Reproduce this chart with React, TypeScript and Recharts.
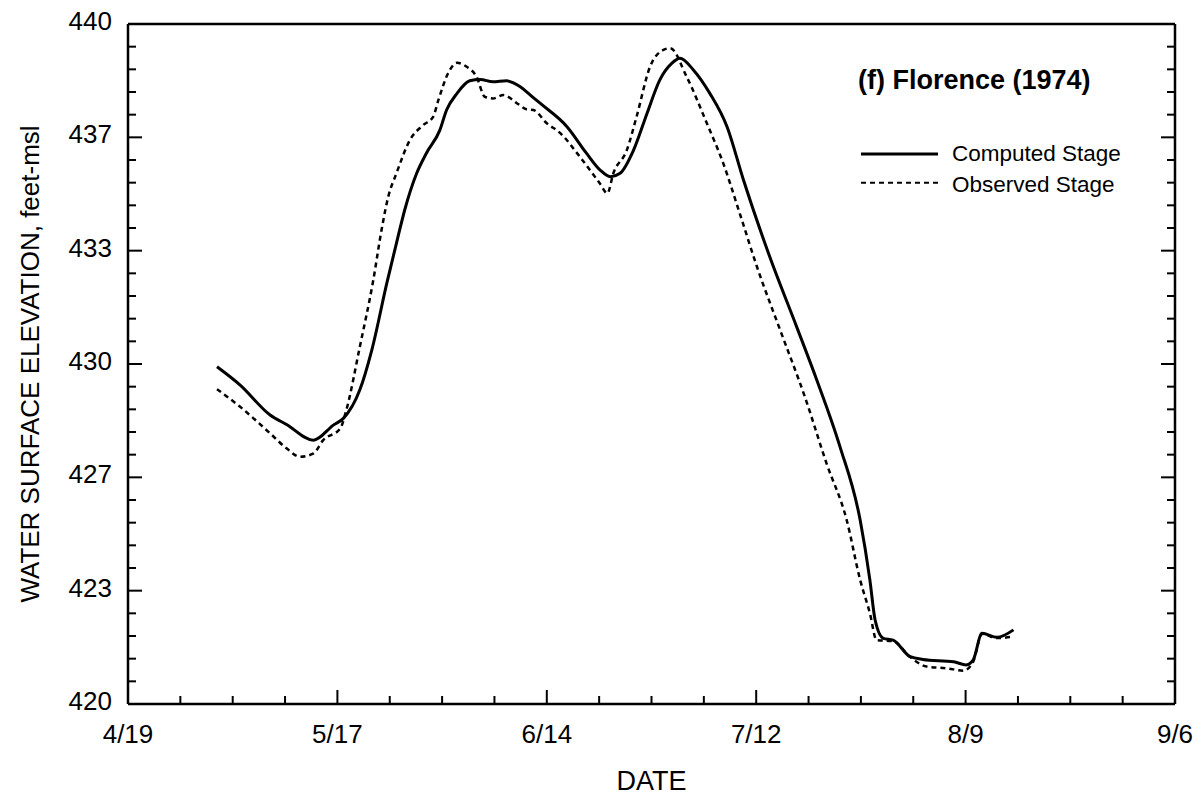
import React from "react"
import { LineChart, Line, XAxis, YAxis, Legend } from "recharts"

const FONT = '"Liberation Sans", Arial, Helvetica, sans-serif'

// x values are days after 4/19 (1974)
const dateLabels = ["4/19", "5/17", "6/14", "7/12", "8/9", "9/6"]
const elevationLabels = [420, 423, 427, 430, 433, 437, 440]

const computedDays = [
  11.9, 15.0, 19.0, 21.2, 24.8, 27.5, 28.8, 31.0, 32.6, 34.6, 36.1,
  37.0, 38.6, 39.9, 41.7, 42.6, 44.0, 45.7, 47.1, 48.8, 50.6,
  52.4, 53.8, 55.1, 58.7, 61.3, 63.1, 64.5, 65.8, 67.6, 69.4,
  71.1, 72.7, 73.8, 75.6, 77.8, 80.1, 82.3, 85.8, 89.4, 92.1,
  95.2, 97.9, 99.2, 99.9, 101.0, 102.3, 104.6, 106.3, 110.4, 112.1,
  113.0, 114.2, 116.2, 118.4
]
const computedStage = [
  429.92, 429.38, 428.5, 428.22, 427.76, 428.21, 428.4, 429.24, 430.41, 432.37, 433.74,
  434.53, 435.61, 436.2, 436.88, 437.47, 437.96, 438.33, 438.37, 438.3, 438.33,
  438.16, 437.91, 437.67, 436.98, 436.2, 435.71, 435.51, 435.61, 436.29, 437.37,
  438.35, 438.84, 438.99, 438.65, 437.96, 436.98, 435.41, 433.16, 431.1, 429.53,
  427.57, 425.41, 423.65, 422.47, 421.93, 421.88, 421.39, 421.31, 421.24, 421.15,
  421.29, 422.08, 421.96, 422.18
]

const observedDays = [
  11.9, 15.0, 19.0, 21.2, 23.0, 24.8, 26.1, 28.4, 29.2, 31.0,
  32.8, 33.9, 34.8, 35.9, 37.7, 39.5, 40.8, 41.5, 42.8, 44.0,
  45.3, 46.6, 47.7, 48.8, 50.2, 52.0, 53.3, 54.2, 56.0, 57.8,
  60.4, 63.1, 64.1, 64.9, 66.7, 68.0, 69.8, 71.6, 72.5, 74.7,
  77.4, 79.6, 81.8, 84.1, 87.2, 90.5, 93.4, 96.1, 97.9, 99.2,
  100.1, 102.3, 104.6, 106.8, 109.5, 111.7, 113.0, 114.2, 116.2, 118.4
]
const observedStage = [
  429.26, 428.74, 427.96, 427.52, 427.27, 427.37, 427.76, 428.11, 428.65, 430.51,
  432.47, 433.94, 434.92, 435.61, 436.59, 437.03, 437.27, 437.76, 438.55, 438.86,
  438.74, 438.45, 437.86, 437.81, 437.91, 437.67, 437.49, 437.47, 437.08, 436.79,
  436.1, 435.31, 435.02, 435.61, 436.29, 437.27, 438.74, 439.24, 439.29, 438.45,
  437.08, 435.9, 434.43, 432.86, 431.0, 429.04, 427.08, 425.41, 423.65, 422.67,
  421.88, 421.85, 421.38, 421.1, 421.05, 420.98, 421.24, 422.06, 421.94, 421.98
]

const computedData = computedDays.map((day, i) => ({ day, stage: computedStage[i] }))
const observedData = observedDays.map((day, i) => ({ day, stage: observedStage[i] }))

// a tick every week, long ones every 4 weeks (where the labels are)
const dayTicks = Array.from({ length: 21 }, (_, i) => i * 7)
// a tick every 2/3 ft, every 5th one labeled
const stageTicks = Array.from({ length: 31 }, (_, i) => 420 + (i * 2) / 3)

const dayIndex = (v: number) => (v % 28 === 0 ? v / 28 : -1)
const stageIndex = (v: number) => {
  const k = Math.round((v - 420) * 1.5)
  return k % 5 === 0 ? k / 5 : -1
}

const LONG = 14
const SHORT = 8

function BottomTick(props: any) {
  const { x, y, payload } = props
  const idx = dayIndex(payload.value)
  return (
    <g>
      <line x1={x} y1={y} x2={x} y2={y - (idx >= 0 ? LONG : SHORT)} stroke="#000" strokeWidth={2} />
      {idx >= 0 && (
        <text x={x} y={y + 39} textAnchor="middle" fontSize={26} fontFamily={FONT} fill="#000">
          {dateLabels[idx]}
        </text>
      )}
    </g>
  )
}

function TopTick(props: any) {
  const { x, y, payload } = props
  const idx = dayIndex(payload.value)
  return <line x1={x} y1={y} x2={x} y2={y + (idx >= 0 ? LONG : SHORT)} stroke="#000" strokeWidth={2} />
}

function LeftTick(props: any) {
  const { x, y, payload } = props
  const idx = stageIndex(payload.value)
  return (
    <g>
      <line x1={x} y1={y} x2={x + (idx >= 0 ? LONG : SHORT)} y2={y} stroke="#000" strokeWidth={2} />
      {idx >= 0 && (
        <text x={x - 16} y={y + 6} textAnchor="end" fontSize={26} fontFamily={FONT} fill="#000">
          {elevationLabels[idx]}
        </text>
      )}
    </g>
  )
}

function RightTick(props: any) {
  const { x, y, payload } = props
  const idx = stageIndex(payload.value)
  return <line x1={x} y1={y} x2={x - (idx >= 0 ? LONG : SHORT)} y2={y} stroke="#000" strokeWidth={2} />
}

function YTitle(props: any) {
  const vb = props.viewBox
  const cy = vb.y + vb.height / 2
  return (
    <text
      x={39}
      y={cy}
      transform={`rotate(-90, 39, ${cy})`}
      textAnchor="middle"
      fontSize={26}
      fontFamily={FONT}
      fill="#000"
    >
      WATER SURFACE ELEVATION, feet-msl
    </text>
  )
}

function XTitle(props: any) {
  const vb = props.viewBox
  return (
    <text x={vb.x + vb.width / 2} y={790} textAnchor="middle" fontSize={27} fontFamily={FONT} fill="#000">
      DATE
    </text>
  )
}

function LegendBox() {
  return (
    <div style={{ position: "relative", width: 330, height: 140, fontFamily: FONT, color: "#000" }}>
      <div style={{ position: "absolute", left: 0, top: 0, fontSize: 27, lineHeight: "27px", fontWeight: "bold", whiteSpace: "nowrap" }}>
        (f) Florence (1974)
      </div>
      <svg style={{ position: "absolute", left: 3, top: 77 }} width={80} height={50}>
        <line x1={0} y1={10} x2={77} y2={10} stroke="#000" strokeWidth={3} />
        <line x1={0} y1={38.7} x2={77} y2={38.7} stroke="#000" strokeWidth={2} strokeDasharray="5 4" />
      </svg>
      <div style={{ position: "absolute", left: 94, top: 76, fontSize: 22.5, lineHeight: "22px", whiteSpace: "nowrap" }}>
        Computed Stage
      </div>
      <div style={{ position: "absolute", left: 94, top: 107, fontSize: 22.5, lineHeight: "22px", whiteSpace: "nowrap" }}>
        Observed Stage
      </div>
    </div>
  )
}

export default function App() {
  const axisLine = { stroke: "#000", strokeWidth: 2.5 }
  return (
    <div style={{ position: "fixed", left: 0, top: 0, width: 1203, height: 796, background: "#fff" }}>
      <LineChart width={1203} height={796} margin={{ top: 23, right: 27, bottom: 0, left: 0 }}>
        <XAxis
          dataKey="day"
          type="number"
          domain={[0, 140]}
          ticks={dayTicks}
          interval={0}
          allowDataOverflow
          height={92}
          tickSize={0}
          tickMargin={0}
          tickLine={false}
          axisLine={axisLine}
          tick={BottomTick}
          label={{ content: XTitle }}
        />
        <XAxis
          xAxisId="top"
          orientation="top"
          type="number"
          domain={[0, 140]}
          ticks={dayTicks}
          interval={0}
          allowDataOverflow
          height={1}
          tickSize={0}
          tickMargin={0}
          tickLine={false}
          axisLine={axisLine}
          tick={TopTick}
        />
        <YAxis
          type="number"
          domain={[420, 440]}
          ticks={stageTicks}
          interval={0}
          allowDataOverflow
          width={128}
          tickSize={0}
          tickMargin={0}
          tickLine={false}
          axisLine={axisLine}
          tick={LeftTick}
          label={{ content: YTitle }}
        />
        <YAxis
          yAxisId="right"
          orientation="right"
          type="number"
          domain={[420, 440]}
          ticks={stageTicks}
          interval={0}
          allowDataOverflow
          width={1}
          tickSize={0}
          tickMargin={0}
          tickLine={false}
          axisLine={axisLine}
          tick={RightTick}
        />
        <Legend
          layout="vertical"
          align="center"
          verticalAlign="middle"
          wrapperStyle={{ left: 858, top: 67, width: 330 }}
          content={() => <LegendBox />}
        />
        <Line
          data={observedData}
          dataKey="stage"
          name="Observed Stage"
          type="monotone"
          stroke="#000"
          strokeWidth={2.5}
          strokeDasharray="5 4"
          dot={false}
          isAnimationActive={false}
        />
        <Line
          data={computedData}
          dataKey="stage"
          name="Computed Stage"
          type="monotone"
          stroke="#000"
          strokeWidth={3}
          dot={false}
          isAnimationActive={false}
        />
      </LineChart>
    </div>
  )
}
